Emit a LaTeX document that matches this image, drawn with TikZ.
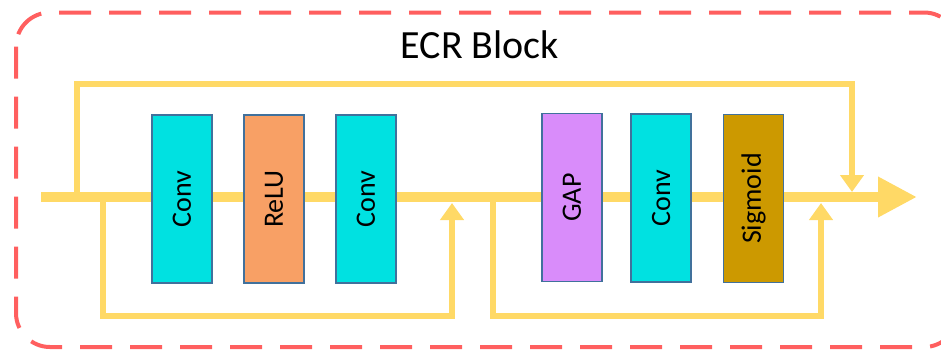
\documentclass[tikz,border=0pt]{standalone}
\usepackage{fontspec}
\setmainfont{Carlito}
\usetikzlibrary{arrows.meta}

\definecolor{trilha}{HTML}{FFD966}
\definecolor{borda}{HTML}{41719C}
\definecolor{moldura}{HTML}{FF5F5F}
\definecolor{ciano}{HTML}{00E1E1}
\definecolor{laranja}{HTML}{F8A065}
\definecolor{lilas}{HTML}{D98CFA}
\definecolor{ocre}{HTML}{CC9900}

\begin{document}
\begin{tikzpicture}[
    x=1pt, y=-1pt,
    % Camadas do bloco (retângulos verticais)
    camada/.style={
        draw=borda,
        line width=1.5pt,
        rectangle,
        rotate=90,
        minimum width=168pt,
        minimum height=60pt,
        inner sep=0pt,
        font=\fontsize{28}{30}\selectfont
    },
    % Caminho principal e atalhos
    principal/.style={draw=trilha, line width=10pt, -{Triangle[length=39pt,width=38pt]}},
    atalho/.style={draw=trilha, line width=6pt, -{Triangle[length=17pt,width=23pt]}}
]
\clip (0,0) rectangle (941,349);
\useasboundingbox (0,0) rectangle (941,349);

% ---- MOLDURA DO BLOCO ----
\draw[moldura, line width=4pt, dash pattern=on 32pt off 18pt, rounded corners=34pt]
    (16,12.5) rectangle (958,347);
\node[font=\fontsize{40}{42}\selectfont] (titulo) at (480,45) {ECR Block};

% ---- PONTOS DO CAMINHO ----
\coordinate (entrada) at (41,197);
\coordinate (saida)   at (917,197);

\coordinate (sai_topo)  at (77,197);
\coordinate (canto_topo) at (77,84);
\coordinate (chega_topo) at (852,192);

\coordinate (sai_a)   at (103,197);
\coordinate (canto_a) at (103,316);
\coordinate (chega_a) at (452,203);

\coordinate (sai_b)   at (493,197);
\coordinate (canto_b) at (493,316);
\coordinate (chega_b) at (821,203);

% ---- ATALHOS ----
\draw[atalho] (sai_topo) -- (canto_topo) -| (chega_topo);
\draw[atalho] (sai_a) -- (canto_a) -| (chega_a);
\draw[atalho] (sai_b) -- (canto_b) -| (chega_b);

% ---- CAMINHO PRINCIPAL ----
\draw[principal] (entrada) -- (saida);

% ---- CAMADAS ----
\node[camada, fill=ciano]   (conv1)   at (182,199)   {Conv};
\node[camada, fill=laranja] (relu)    at (274,199)   {ReLU};
\node[camada, fill=ciano]   (conv2)   at (366,199)   {Conv};
\node[camada, fill=lilas]   (gap)     at (572,197.5) {GAP};
\node[camada, fill=ciano]   (conv3)   at (661,198)   {Conv};
\node[camada, fill=ocre]    (sigmoid) at (753.5,198.5) {Sigmoid};

\end{tikzpicture}
\end{document}
